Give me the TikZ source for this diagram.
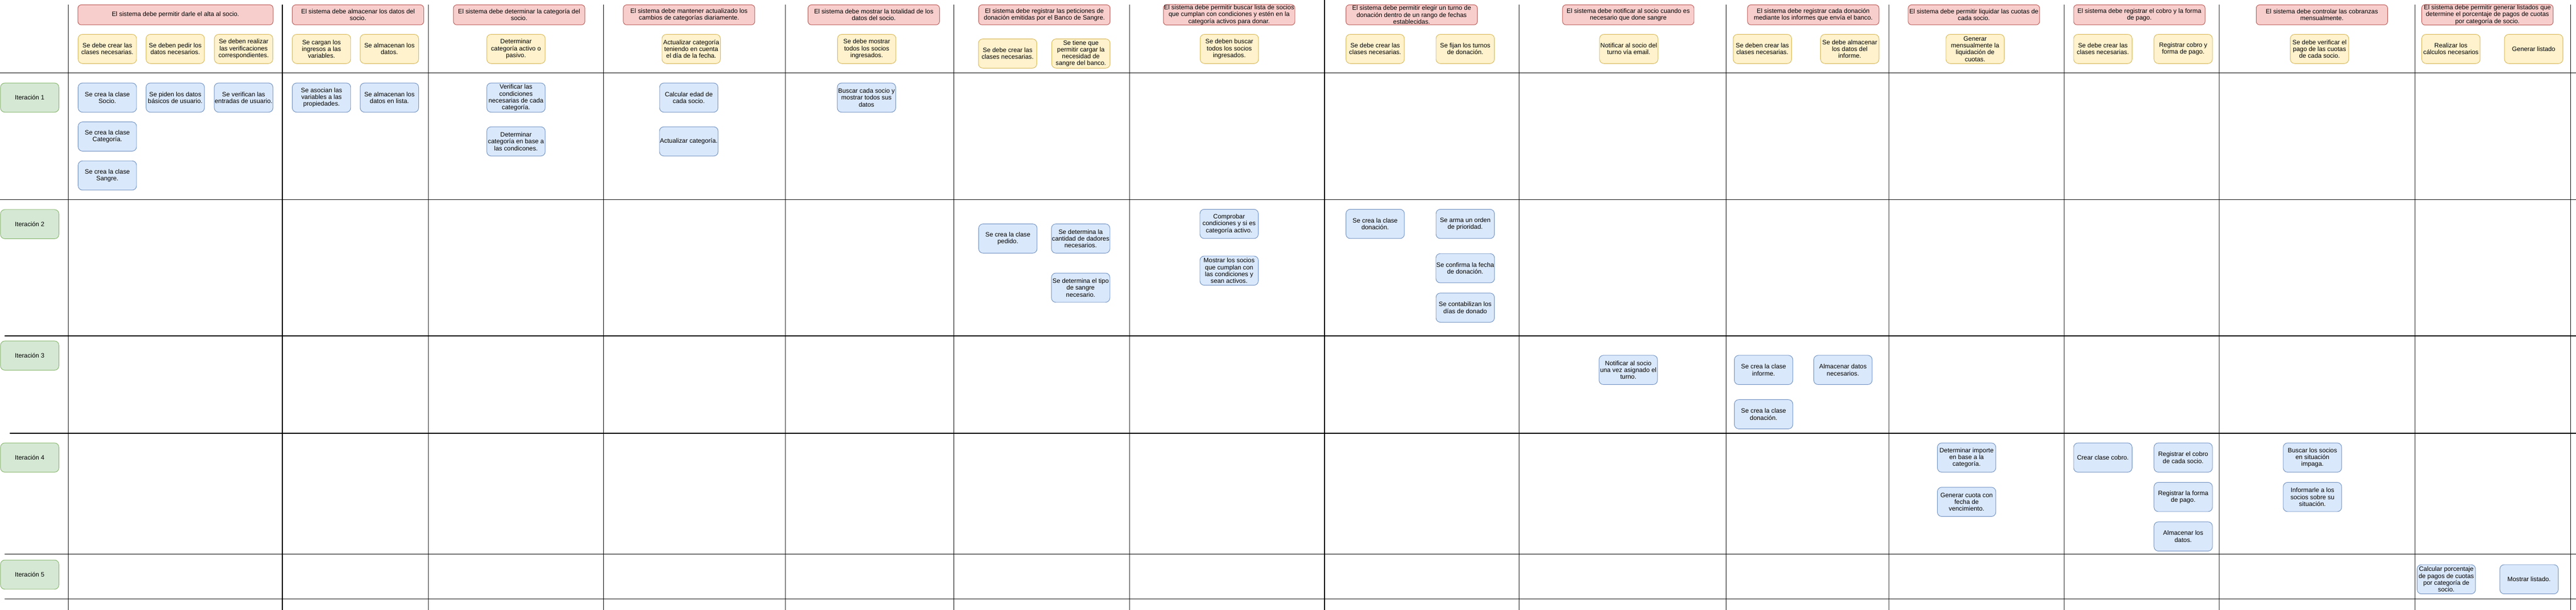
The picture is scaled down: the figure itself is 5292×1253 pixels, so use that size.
\documentclass[tikz,border=0pt]{standalone}
\usepackage{fontspec}
\setmainfont{Liberation Sans}
\usetikzlibrary{positioning}
\definecolor{reqfill}{HTML}{F8CECC}
\definecolor{reqdraw}{HTML}{B85450}
\definecolor{taskfill}{HTML}{FFF2CC}
\definecolor{taskdraw}{HTML}{D6B656}
\definecolor{implfill}{HTML}{DAE8FC}
\definecolor{impldraw}{HTML}{6C8EBF}
\definecolor{iterfill}{HTML}{D5E8D4}
\definecolor{iterdraw}{HTML}{82B366}
\tikzstyle{box} = [rectangle, rounded corners=9pt, align=center, inner sep=1pt,
line width=1pt, font=\fontsize{13}{14}\selectfont, minimum width=120pt,
minimum height=60pt]
\tikzstyle{req} = [box, fill=reqfill, draw=reqdraw, rounded corners=7pt,
minimum width=270pt, minimum height=41pt]
\tikzstyle{task} = [box, fill=taskfill, draw=taskdraw]
\tikzstyle{impl} = [box, fill=implfill, draw=impldraw]
\tikzstyle{iter} = [box, fill=iterfill, draw=iterdraw]
\tikzstyle{lane} = [line width=1.3pt, black]
\tikzstyle{thinlane} = [line width=1pt, black!85]

\begin{document}
\begin{tikzpicture}[x=1pt, y=-1pt]
				\useasboundingbox (0,0) rectangle (5292,1253) ;

				% lanes
				\foreach \x in {140,580,1240,1960,3121,3546,5281}
				  \draw[lane] (\x,10) -- (\x,1253) ;
				\draw[lane] (2721,0) -- (2721,1253) ;
				\foreach \x in {880,1614,2320,3881,4240,4559,4961}
				  \draw[thinlane] (\x,10) -- (\x,1253) ;
				\foreach \y/\s in {150/0,410/0,690/10,890/20,1138/10,1230/10}
				  \draw[lane] (\s,\y) -- (5292,\y) ;

				% requisitos
				\node[req, minimum width=401pt] (r1) at (360.5,30.5) {El sistema debe permitir darle el alta al socio.} ; %
				\node[req] (r2) at (735.5,30.5) {El sistema debe almacenar los datos del\\socio.} ; %
				\node[req] (r3) at (1066.5,30.5) {El sistema debe determinar la categoría del\\socio.} ; %
				\node[req] (r4) at (1415.5,30.5) {El sistema debe mantener actualizado los\\cambios de categorías diariamente.} ; %
				\node[req] (r5) at (1795,30.5) {El sistema debe mostrar la totalidad de los\\datos del socio.} ; %
				\node[req] (r6) at (2145.5,30.5) {El sistema debe registrar las peticiones de\\donación emitidas por el Banco de Sangre.} ; %
				\node[req] (r7) at (2525,30.5) {El sistema debe permitir buscar lista de socios\\que cumplan con condiciones y estén en la\\categoría activos para donar.} ; %
				\node[req] (r8) at (2900,30.5) {El sistema debe permitir elegir un turno de\\donación dentro de un rango de fechas\\establecidas.} ; %
				\node[req] (r9) at (3345,30.5) {El sistema debe notificar al socio cuando es\\necesario que done sangre} ; %
				\node[req] (r10) at (3725,30.5) {El sistema debe registrar cada donación\\mediante los informes que envía el banco.} ; %
				\node[req] (r11) at (4055,30.5) {El sistema debe permitir liquidar las cuotas de\\cada socio.} ; %
				\node[req] (r12) at (4395,30.5) {El sistema debe registrar el cobro y la forma\\de pago.} ; %
				\node[req] (r13) at (4770,30.5) {El sistema debe controlar las cobranzas\\mensualmente.} ; %
				\node[req] (r14) at (5110,30.5) {El sistema debe permitir generar listados que\\determine el porcentaje de pagos de cuotas\\por categoría de socio.} ; %

				% tareas
				\node[task] (t1a) at (220.5,100.5) {Se debe crear las\\clases necesarias.} ; %
				\node[task] (t1b) at (360,100.5) {Se deben pedir los\\datos necesarios.} ; %
				\node[task] (t1c) at (500.5,100.5) {Se deben realizar\\las verificaciones\\correspondientes.} ; %
				\node[task] (t2a) at (660.5,100.5) {Se cargan los\\ingresos a las\\variables.} ; %
				\node[task] (t2b) at (800,100.5) {Se almacenan los\\datos.} ; %
				\node[task] (t3) at (1060,100.5) {Determinar\\categoría activo o\\pasivo.} ; %
				\node[task] (t4) at (1420,100.5) {Actualizar categoría\\teniendo en cuenta\\el día de la fecha.} ; %
				\node[task] (t5) at (1780.5,100.5) {Se debe mostrar\\todos los socios\\ingresados.} ; %
				\node[task] (t6a) at (2070,110) {Se debe crear las\\clases necesarias.} ; %
				\node[task] (t6b) at (2220.5,110) {Se tiene que\\permitir cargar la\\necesidad de\\sangre del banco.} ; %
				\node[task] (t7) at (2525.5,100.5) {Se deben buscar\\todos los socios\\ingresados.} ; %
				\node[task] (t8a) at (2825,100.5) {Se debe crear las\\clases necesarias.} ; %
				\node[task] (t8b) at (3010,100.5) {Se fijan los turnos\\de donación.} ; %
				\node[task] (t9) at (3346,100.5) {Notificar al socio del\\turno vía email.} ; %
				\node[task] (t10a) at (3620.5,100.5) {Se deben crear las\\clases necesarias.} ; %
				\node[task] (t10b) at (3800,100.5) {Se debe almacenar\\los datos del\\informe.} ; %
				\node[task] (t11) at (4057.5,100.5) {Generar\\mensualmente la\\liquidación de\\cuotas.} ; %
				\node[task] (t12a) at (4320,100.5) {Se debe crear las\\clases necesarias.} ; %
				\node[task] (t12b) at (4485,100.5) {Registrar cobro y\\forma de pago.} ; %
				\node[task] (t13) at (4765,100.5) {Se debe verificar el\\pago de las cuotas\\de cada socio.} ; %
				\node[task] (t14a) at (5035,100.5) {Realizar los\\cálculos necesarios} ; %
				\node[task] (t14b) at (5205,100.5) {Generar listado} ; %

				% iteraciones
				\node[iter] (it1) at (61,200.5) {Iteración 1} ; %
				\node[iter] (it2) at (61,460.5) {Iteración 2} ; %
				\node[iter] (it3) at (61,730.5) {Iteración 3} ; %
				\node[iter] (it4) at (61,940) {Iteración 4} ; %
				\node[iter] (it5) at (61,1180.5) {Iteración 5} ; %

				% iteracion 1
				\node[impl] (b1a) at (220.5,200.5) {Se crea la clase\\Socio.} ; %
				\node[impl] (b1b) at (360,200.5) {Se piden los datos\\básicos de usuario.} ; %
				\node[impl] (b1c) at (500.5,200.5) {Se verifican las\\entradas de usuario.} ; %
				\node[impl, below=19pt of b1a] (b1d) {Se crea la clase\\Categoría.} ; %
				\node[impl, below=19pt of b1d] (b1e) {Se crea la clase\\Sangre.} ; %
				\node[impl] (b2a) at (660.5,200.5) {Se asocian las\\variables a las\\propiedades.} ; %
				\node[impl] (b2b) at (800,200.5) {Se almacenan los\\datos en lista.} ; %
				\node[impl] (b3a) at (1060,200.5) {Verificar las\\condiciones\\necesarias de cada\\categoría.} ; %
				\node[impl, below=29pt of b3a] (b3b) {Determinar\\categoría en base a\\las condicones.} ; %
				\node[impl] (b4a) at (1415,200.5) {Calcular edad de\\cada socio.} ; %
				\node[impl, below=29pt of b4a] (b4b) {Actualizar categoría.} ; %
				\node[impl] (b5a) at (1780,200.5) {Buscar cada socio y\\mostrar todos sus\\datos} ; %

				% iteracion 2
				\node[impl] (c6a) at (2070.5,490) {Se crea la clase\\pedido.} ; %
				\node[impl] (c6b) at (2220,490) {Se determina la\\cantidad de dadores\\necesarios.} ; %
				\node[impl, below=40pt of c6b] (c6c) {Se determina el tipo\\de sangre\\necesario.} ; %
				\node[impl] (c7a) at (2525,460) {Comprobar\\condiciones y si es\\categoría activo.} ; %
				\node[impl, below=35pt of c7a] (c7b) {Mostrar los socios\\que cumplan con\\las condiciones y\\sean activos.} ; %
				\node[impl] (c8a) at (2825,460) {Se crea la clase\\donación.} ; %
				\node[impl] (c8b) at (3010,460) {Se arma un orden\\de prioridad.} ; %
				\node[impl, below=30pt of c8b] (c8c) {Se confirma la fecha\\de donación.} ; %
				\node[impl, below=20pt of c8c] (c8d) {Se contabilizan los\\días de donado} ; %

				% iteracion 3
				\node[impl] (d9) at (3345,760) {Notificar al socio\\una vez asignado el\\turno.} ; %
				\node[impl] (d10a) at (3623,760) {Se crea la clase\\informe.} ; %
				\node[impl] (d10b) at (3786,760) {Almacenar datos\\necesarios.} ; %
				\node[impl, below=30pt of d10a] (d10c) {Se crea la clase\\donación.} ; %

				% iteracion 4
				\node[impl] (e11a) at (4040,940) {Determinar importe\\en base a la\\categoría.} ; %
				\node[impl, below=30pt of e11a] (e11b) {Generar cuota con\\fecha de\\vencimiento.} ; %
				\node[impl] (e12a) at (4320,940) {Crear clase cobro.} ; %
				\node[impl] (e12b) at (4485,940) {Registrar el cobro\\de cada socio.} ; %
				\node[impl, below=20pt of e12b] (e12c) {Registrar la forma\\de pago.} ; %
				\node[impl, below=20pt of e12c] (e12d) {Almacenar los\\datos.} ; %
				\node[impl] (e13a) at (4750.5,940) {Buscar los socios\\en situación\\impaga.} ; %
				\node[impl, below=20pt of e13a] (e13b) {Informarle a los\\socios sobre su\\situación.} ; %

				% iteracion 5
				\node[impl] (f14a) at (5025.5,1190) {Calcular porcentaje\\de pagos de cuotas\\por categoría de\\socio.} ; %
				\node[impl] (f14b) at (5195.5,1190) {Mostrar listado.} ; %
\end{tikzpicture}
\end{document}
